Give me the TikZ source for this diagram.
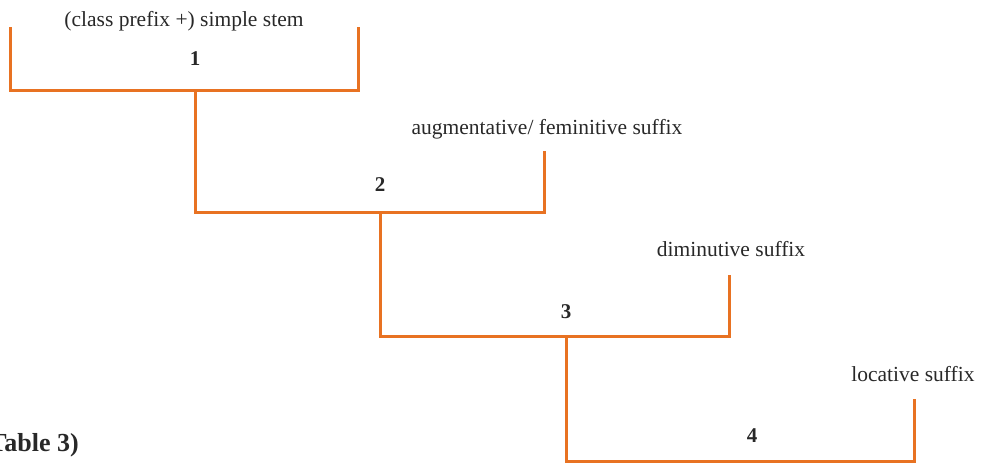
\documentclass[tikz,border=0pt]{standalone}
\usepackage{fontspec}
\setmainfont{Liberation Serif}
\begin{document}
\begin{tikzpicture}[x=1pt,y=-1pt,
  bracket/.style={draw=brk,line width=3pt,line cap=rect},
  lbl/.style={font=\fontsize{21.5}{25}\selectfont,text=txt,inner sep=0pt,anchor=base},
  num/.style={font=\fontsize{21}{25}\selectfont\bfseries,text=txt,inner sep=0pt,anchor=base}]
\definecolor{brk}{RGB}{232,114,34}
\definecolor{txt}{RGB}{40,40,40}
\useasboundingbox (0,0) rectangle (981,464);
\clip (0,0) rectangle (981,464);
% bracket corners (top-left, bottom-left, bottom-right, top-right)
\coordinate (a1) at (10,28);  \coordinate (b1) at (10,90);
\coordinate (c1) at (358,90); \coordinate (d1) at (358,28);
\coordinate (b2) at (195,212);
\coordinate (c2) at (544,212); \coordinate (d2) at (544,152);
\coordinate (b3) at (380,336);
\coordinate (c3) at (729,336); \coordinate (d3) at (729,276);
\coordinate (b4) at (566,461);
\coordinate (c4) at (914,461); \coordinate (d4) at (914,400);
% stems leave each bracket's base below its number
\coordinate (m1) at (195,90);
\coordinate (m2) at (380,212);
\coordinate (m3) at (566,336);
% labels
\node[lbl] (t1) at (184,26) {(class prefix +) simple stem};
\node[num] (n1) at (195,65) {1};
\node[lbl] (t2) at (547,134) {augmentative/ feminitive suffix};
\node[num] (n2) at (380,191) {2};
\node[lbl] (t3) at (731,256) {diminutive suffix};
\node[num] (n3) at (566,318) {3};
\node[lbl] (t4) at (913,381) {locative suffix};
\node[num] (n4) at (752,442) {4};
\node[num,font=\fontsize{26}{30}\selectfont\bfseries,anchor=base east] (tab) at (79,451) {(Table 3)};
% brackets
\draw[bracket] (a1) -- (b1) -- (c1) -- (d1);
\draw[bracket] (m1) -- (b2) -- (c2) -- (d2);
\draw[bracket] (m2) -- (b3) -- (c3) -- (d3);
\draw[bracket] (m3) -- (b4) -- (c4) -- (d4);
\end{tikzpicture}
\end{document}
